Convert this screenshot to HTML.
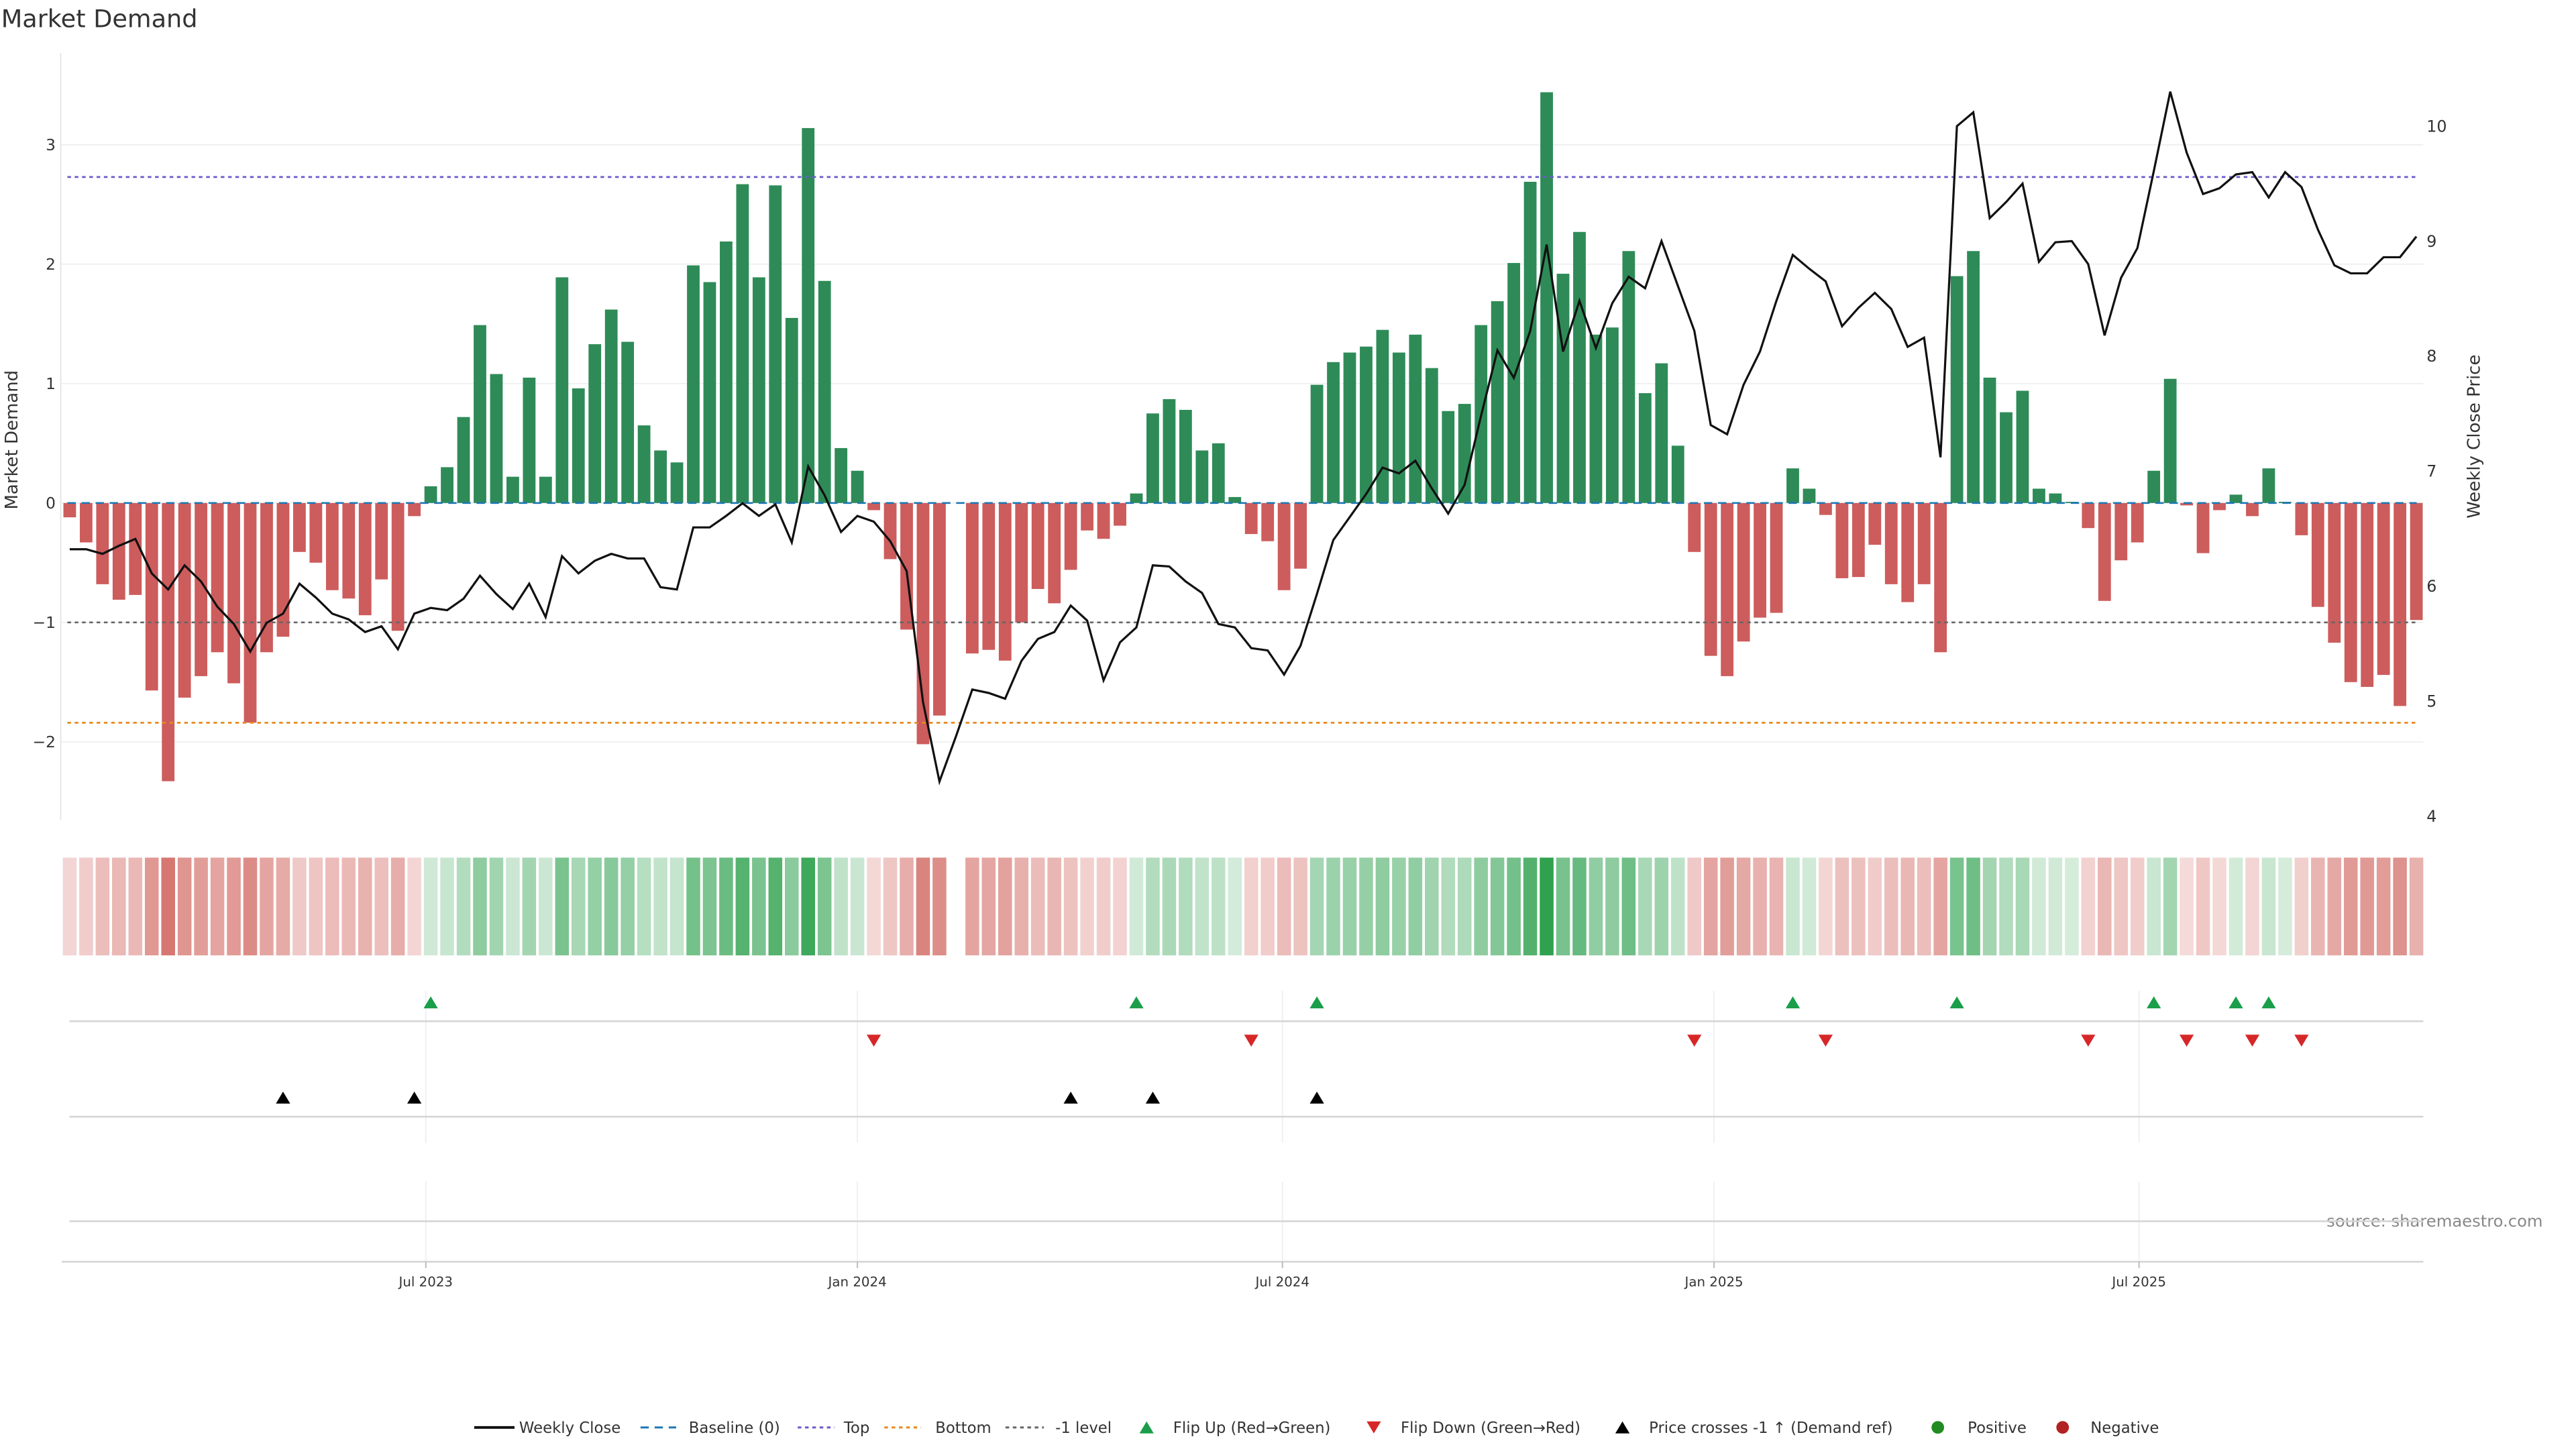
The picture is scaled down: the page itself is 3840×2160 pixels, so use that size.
<!DOCTYPE html>
<html><head><meta charset="utf-8"><style>
html,body{margin:0;padding:0;background:#fff}
svg{display:block;font-family:"DejaVu Sans","Liberation Sans",sans-serif}
</style></head><body>
<svg id="chart" width="3840" height="2160" viewBox="0 0 1552 873" xmlns="http://www.w3.org/2000/svg">
<rect x="0" y="0" width="1552" height="873" fill="#fff"/>
<text x="0.7" y="16.4" font-size="14.8" fill="#333">Market Demand</text>
<text transform="translate(10.5,265) rotate(-90)" text-anchor="middle" font-size="10.5" fill="#333">Market Demand</text>
<text transform="translate(1494,263) rotate(-90)" text-anchor="middle" font-size="10.5" fill="#333">Weekly Close Price</text>
<text x="1532" y="739" text-anchor="end" font-size="9.8" fill="#888">source: sharemaestro.com</text>
<g id="grid"></g><g id="refs"></g><g id="bars"></g><g id="price"></g><g id="heat"></g><g id="events"></g><g id="axes"></g><g id="legend"></g>
</svg>
<script>
const demand = [-0.12,-0.33,-0.68,-0.81,-0.77,-1.57,-2.33,-1.63,-1.45,-1.25,-1.51,-1.84,-1.25,-1.12,-0.41,-0.50,-0.73,-0.80,-0.94,-0.64,-1.07,-0.11,
0.14,0.30,0.72,1.49,1.08,0.22,1.05,0.22,1.89,0.96,1.33,1.62,1.35,0.65,0.44,0.34,1.99,1.85,2.19,2.67,1.89,2.66,1.55,3.14,1.86,0.46,0.27,
-0.06,-0.47,-1.06,-2.02,-1.78,0,-1.26,-1.23,-1.32,-1.00,-0.72,-0.84,-0.56,-0.23,-0.30,-0.19,
0.08,0.75,0.87,0.78,0.44,0.50,0.05,-0.26,-0.32,-0.73,-0.55,
0.99,1.18,1.26,1.31,1.45,1.26,1.41,1.13,0.77,0.83,1.49,1.69,2.01,2.69,3.44,1.92,2.27,1.41,1.47,2.11,0.92,1.17,0.48,
-0.41,-1.28,-1.45,-1.16,-0.96,-0.92,0.29,0.12,-0.10,-0.63,-0.62,-0.35,-0.68,-0.83,-0.68,-1.25,
1.90,2.11,1.05,0.76,0.94,0.12,0.08,0.01,-0.21,-0.82,-0.48,-0.33,0.27,1.04,-0.02,-0.42,-0.06,0.07,-0.11,0.29,0.01,-0.27,-0.87,-1.17,-1.50,-1.54,-1.44,-1.70,-0.98];
const closePrice = [6.32,6.32,6.28,6.35,6.41,6.11,5.97,6.18,6.04,5.82,5.67,5.43,5.68,5.76,6.02,5.90,5.76,5.71,5.60,5.65,5.45,5.76,5.81,5.79,5.89,6.09,5.93,5.80,6.02,5.73,
6.26,6.11,6.22,6.28,6.24,6.24,5.99,5.97,6.51,6.51,6.61,6.72,6.61,6.71,6.38,7.04,6.79,6.47,6.61,6.56,6.39,6.13,4.99,4.30,4.69,5.10,5.07,5.02,5.35,5.54,
5.60,5.83,5.70,5.18,5.51,5.64,6.18,6.17,6.04,5.94,5.67,5.64,5.46,5.44,5.23,5.48,5.93,6.40,6.60,6.80,7.03,6.98,7.09,6.85,6.63,6.88,7.48,8.05,7.81,8.22,
8.97,8.04,8.48,8.07,8.46,8.69,8.59,9.00,8.61,8.22,7.40,7.32,7.75,8.04,8.48,8.88,8.76,8.65,8.26,8.42,8.55,8.41,8.08,8.16,7.12,10.00,10.12,9.20,9.34,9.50,
8.82,8.99,9.00,8.80,8.18,8.68,8.94,9.61,10.30,9.77,9.41,9.46,9.58,9.60,9.38,9.60,9.47,9.10,8.79,8.72,8.72,8.86,8.86,9.04];
const flipUp = [22,65,76,105,115,127,132,134];
const flipDown = [49,72,99,107,123,129,133,136];
const priceCross = [13,21,61,66,76];
const leftTicks = [-2,-1,0,1,2,3];
const leftTickLabels = ["\u22122","\u22121","0","1","2","3"];
const rightTicks = [4,5,6,7,8,9,10];
const xTickPos = [21.7,48.0,73.9,100.2,126.1];
const xTickLabels = ["Jul 2023","Jan 2024","Jul 2024","Jan 2025","Jul 2025"];
const topLevel = 2.73, bottomLevel = -1.84, minusLevel = -1;

const NS="http://www.w3.org/2000/svg";
function mk(tag, parent, attrs){const e=document.createElementNS(NS,tag);for(const k in attrs)e.setAttribute(k,attrs[k]);parent.appendChild(e);return e;}
const X0=42.0, DX=9.887, PL=36.6, PR=1460;
const xs = i => X0 + DX*i;
const vy = v => 303.05 - 71.94*v;
const py = p => 76.0 + (10-p)*69.27;
const G = id => document.getElementById(id);

// grid
leftTicks.forEach((t,k)=>{
  const l=mk('line',G('grid'),{x1:PL,x2:PR,y1:vy(t),y2:vy(t),stroke:'#eef0f2','stroke-width':0.8});
  
  
  const tx=mk('text',G('axes'),{x:33.5,y:vy(t)+3.4,'text-anchor':'end','font-size':9.4,fill:'#333'});
  tx.textContent=leftTickLabels[k];
  
  
});
rightTicks.forEach(t=>{
  const tx=mk('text',G('axes'),{x:1462,y:py(t)+3.4,'font-size':9.6,fill:'#333'});
  tx.textContent=String(t);
  
  
});
const sp=mk('line',G('axes'),{x1:PL,x2:PL,y1:32,y2:494,stroke:'#e6e6e6','stroke-width':0.8});



// baseline
const bl=mk('line',G('refs'),{x1:PL+4,x2:PR-4,y1:vy(0),y2:vy(0),stroke:'#1f77b4','stroke-width':1.1,'stroke-dasharray':'5 3.5'});



// bars
demand.forEach((v,i)=>{
  if(v===0) return;
  const y1=vy(Math.max(v,0)), y2=vy(Math.min(v,0));
  const r=mk('rect',G('bars'),{x:xs(i)-3.8,y:y1,width:7.6,height:Math.max(y2-y1,0.4),fill:v>0?'#2e8b57':'#cd5c5c'});
  
  
});

// ref lines on top
[[topLevel,'#6a5acd','top-line'],[bottomLevel,'#e8891f','bottom-line'],[minusLevel,'#666','minus-one-line']].forEach(a=>{
  const l=mk('line',G('refs'),{x1:PL+4,x2:PR-4,y1:vy(a[0]),y2:vy(a[0]),stroke:a[1],'stroke-width':1.1,'stroke-dasharray':'2.2 2.2'});
  
  
});
G('price').parentNode.appendChild(G('refs'));
G('price').parentNode.appendChild(G('price'));

// price line
const pts=closePrice.map((p,i)=>xs(i).toFixed(2)+','+py(p).toFixed(2)).join(' ');
const pl=mk('polyline',G('price'),{points:pts,fill:'none',stroke:'#111','stroke-width':1.3,'stroke-linejoin':'miter'});



// heatmap
const maxAbs=Math.max(...demand.map(Math.abs));
demand.forEach((v,i)=>{
  if(v===0) return;
  const op=0.2+0.8*Math.abs(v)/maxAbs;
  const r=mk('rect',G('heat'),{x:xs(i)-4.15,y:516.7,width:8.3,height:58.9,fill:v>0?'#2fa14f':'#c84840','fill-opacity':op.toFixed(3)});
  
  
});

// event rows
const ev=G('events');
xTickPos.forEach(t=>{
  const x=xs(t);
  const a=mk('line',ev,{x1:x,x2:x,y1:597,y2:688.5,stroke:'#eef0f4','stroke-width':0.8});
  
  
  const b=mk('line',ev,{x1:x,x2:x,y1:712,y2:760,stroke:'#eef0f4','stroke-width':0.8});
  
  
});
[615.3,672.8,735.8].forEach(y=>{
  const l=mk('line',ev,{x1:41.9,x2:PR,y1:y,y2:y,stroke:'#d3d3d3','stroke-width':1});
  
  
});
function tri(x,y,up,color,name){
  const h=3.6,w=4.3;
  const p=up?`${x},${y-h} ${x-w},${y+h} ${x+w},${y+h}`:`${x},${y+h} ${x-w},${y-h} ${x+w},${y-h}`;
  const t=mk('polygon',ev,{points:p,fill:color});
  
  
}
flipUp.forEach(i=>tri(xs(i),603.9,true,'#1a9e4a','flip-up-marker'));
flipDown.forEach(i=>tri(xs(i),627,false,'#d62728','flip-down-marker'));
priceCross.forEach(i=>tri(xs(i),661.3,true,'#000','price-cross-marker'));

// x axis
const ax=mk('line',G('axes'),{x1:37.2,x2:PR,y1:760.2,y2:760.2,stroke:'#d3d3d3','stroke-width':1});


xTickPos.forEach((t,k)=>{
  const x=xs(t);
  const tk=mk('line',G('axes'),{x1:x,x2:x,y1:760.2,y2:764,stroke:'#bbb','stroke-width':0.8});
  
  
  const tx=mk('text',G('axes'),{x:x,y:775,'text-anchor':'middle','font-size':8,fill:'#333'});
  tx.textContent=xTickLabels[k];
  
  
});

// legend
const lg=G('legend'); const LY=860;
function ltext(x,s,name){const t=mk('text',lg,{x:x,y:LY+3.3,'font-size':9.2,fill:'#333'});t.textContent=s;}
function lline(x1,x2,color,dash,name){const l=mk('line',lg,{x1:x1,x2:x2,y1:LY,y2:LY,stroke:color,'stroke-width':dash?1.2:1.6});if(dash)l.setAttribute('stroke-dasharray',dash);}
lline(285.7,310,'#111',null,'legend-weekly-close-swatch'); ltext(312.8,'Weekly Close','legend-weekly-close');
lline(385.9,407.4,'#1f77b4','5 3.5','legend-baseline-swatch'); ltext(415,'Baseline (0)','legend-baseline');
lline(480.6,502.8,'#6a5acd','2.2 2.2','legend-top-swatch'); ltext(508.4,'Top','legend-top');
lline(532.8,555,'#e8891f','2.2 2.2','legend-bottom-swatch'); ltext(563.5,'Bottom','legend-bottom');
lline(605.8,628.9,'#666','2.2 2.2','legend-minus-one-swatch'); ltext(635.8,'-1 level','legend-minus-one');
function ltri(x,up,color,name){const h=3.6,w=4.3,y=LY;const p=up?`${x},${y-h} ${x-w},${y+h} ${x+w},${y+h}`:`${x},${y+h} ${x-w},${y-h} ${x+w},${y-h}`;const t=mk('polygon',lg,{points:p,fill:color});}
ltri(690.8,true,'#1a9e4a','legend-flip-up-swatch'); ltext(706.8,'Flip Up (Red\u2192Green)','legend-flip-up');
ltri(827.7,false,'#d62728','legend-flip-down-swatch'); ltext(843.9,'Flip Down (Green\u2192Red)','legend-flip-down');
ltri(977.5,true,'#000','legend-price-cross-swatch'); ltext(993.5,'Price crosses -1 \u2191 (Demand ref)','legend-price-cross');
const c1=mk('circle',lg,{cx:1167.5,cy:LY,r:3.8,fill:'#228b22'});


ltext(1185.5,'Positive','legend-positive');
const c2=mk('circle',lg,{cx:1242.7,cy:LY,r:3.8,fill:'#b22222'});


ltext(1259.5,'Negative','legend-negative');
</script>
</body></html>
